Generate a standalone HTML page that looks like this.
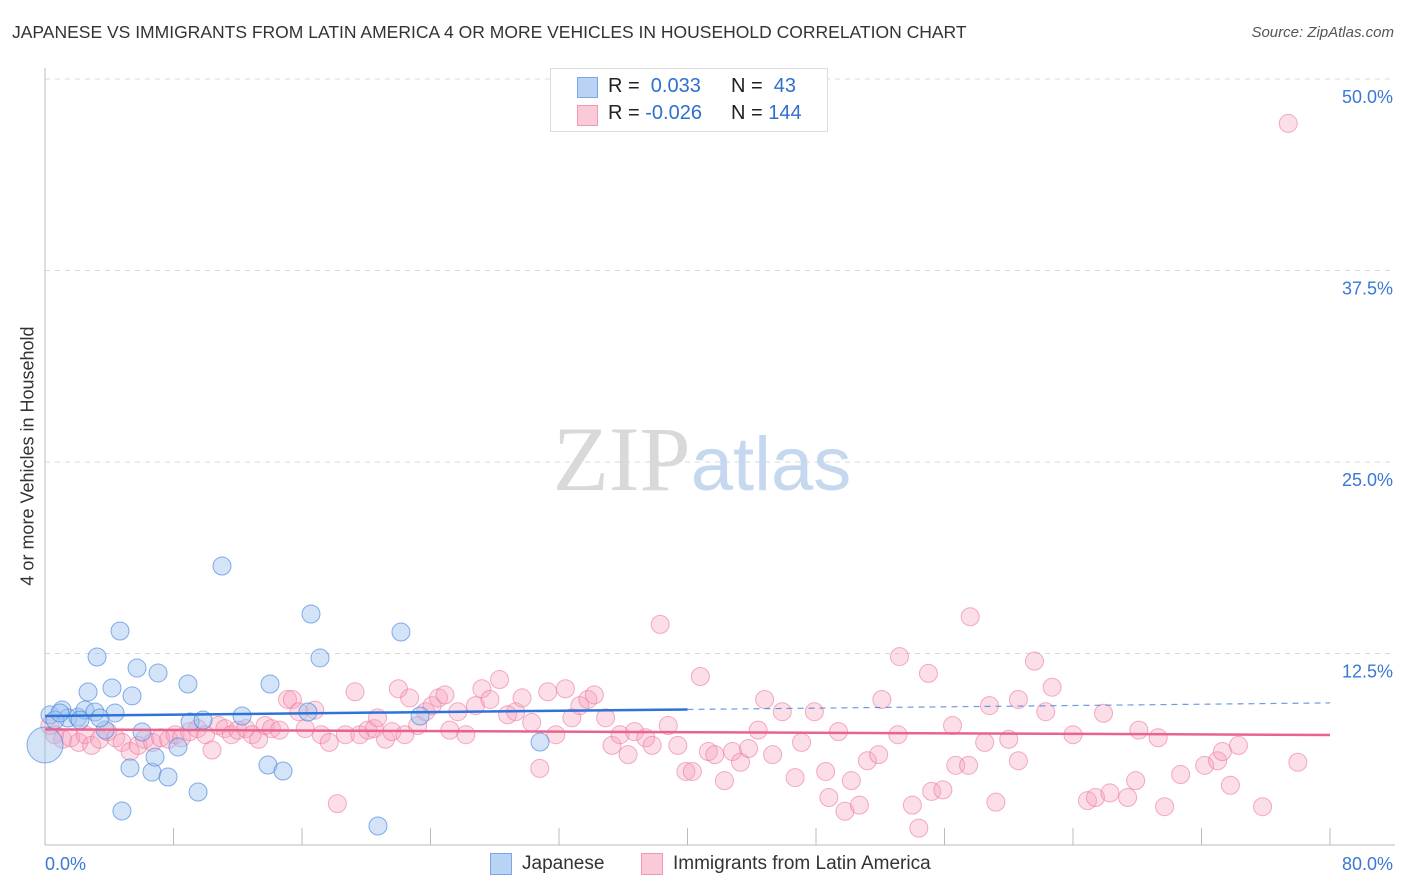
<!DOCTYPE html>
<html><head><meta charset="utf-8"><style>
body{margin:0;background:#fff;font-family:"Liberation Sans",sans-serif;}
#wrap{position:relative;width:1406px;height:892px;overflow:hidden;}
.t{position:absolute;white-space:nowrap;}
</style></head><body>
<div id="wrap">
<div class="t" style="left:12px;top:22px;font-size:17.5px;color:#333;">JAPANESE VS IMMIGRANTS FROM LATIN AMERICA 4 OR MORE VEHICLES IN HOUSEHOLD CORRELATION CHART</div>
<div class="t" style="right:12px;top:24px;font-size:15px;color:#555;font-style:italic;">Source: ZipAtlas.com</div>
<div class="t" style="left:28px;top:456px;font-size:18px;color:#333;transform:translate(-50%,-50%) rotate(-90deg);">4 or more Vehicles in Household</div>
<svg id="svg" width="1406" height="892" style="position:absolute;left:0;top:0"></svg>
<div style="position:absolute;left:550px;top:68px;width:276px;height:62px;border:1px solid #ddd;background:#fff;">
 <div style="position:absolute;left:26px;top:8px;width:19px;height:19px;background:#b9d3f5;border:1px solid #7aa6e6;"></div>
 <div class="t" style="left:57px;top:6px;font-size:20px;color:#222;">R = &nbsp;<span style="color:#2f6fd0">0.033</span></div>
 <div class="t" style="left:180px;top:6px;font-size:20px;color:#222;">N = &nbsp;<span style="color:#2f6fd0">43</span></div>
 <div style="position:absolute;left:26px;top:36px;width:19px;height:19px;background:#fbcad8;border:1px solid #ef9ab3;"></div>
 <div class="t" style="left:57px;top:33px;font-size:20px;color:#222;">R = <span style="color:#2f6fd0">-0.026</span></div>
 <div class="t" style="left:180px;top:33px;font-size:20px;color:#222;">N = <span style="color:#2f6fd0">144</span></div>
</div>
<div style="position:absolute;left:490px;top:853px;width:20px;height:20px;background:#b9d3f5;border:1px solid #7aa6e6;"></div>
<div class="t" style="left:522px;top:853px;font-size:19px;color:#333;">Japanese</div>
<div style="position:absolute;left:641px;top:853px;width:20px;height:20px;background:#fbcad8;border:1px solid #ef9ab3;"></div>
<div class="t" style="left:673px;top:853px;font-size:19px;color:#333;">Immigrants from Latin America</div>
</div>
<script>
const jpX=[0.31,1.06,1.43,2.05,2.49,3.11,2.68,3.24,3.74,4.17,4.36,4.67,5.42,5.73,6.04,5.29,6.66,7.04,7.66,8.28,8.90,9.03,9.84,9.53,11.02,12.27,14.01,13.88,14.82,16.37,16.56,17.12,4.79,20.73,22.16,23.35,30.82,0.62,2.18,3.42,6.85,0.93,0];
const jpY=[8.49,8.81,8.29,8.35,8.81,8.68,9.99,12.27,7.51,10.25,8.62,13.97,9.73,11.55,7.38,5.03,4.76,11.23,4.44,6.40,10.51,8.03,8.16,3.46,18.21,8.42,10.51,5.22,4.83,8.68,15.08,12.21,2.22,1.24,13.90,8.42,6.72,8.16,8.16,8.29,5.74,8.62,6.53];
const jpW=[1,1,1,1,1,1,1,1,1,1,1,1,1,1,1,1,1,1,1,1,1,1,1,1,1,1,1,1,1,1,1,1,1,1,1,1,1,1,1,1,1,1,2];
const laX=[0.3,0.6,1.1,1.6,2.1,2.5,2.9,3.4,3.9,4.4,4.8,5.3,5.8,6.2,6.7,7.2,7.7,8.1,8.5,9.0,9.5,10.0,10.4,10.8,11.2,11.6,12.0,12.5,12.9,13.3,13.7,14.1,14.6,15.1,15.4,15.8,16.2,16.8,17.2,17.7,18.2,18.7,19.3,19.6,20.1,20.5,20.7,21.2,21.6,22.0,22.4,22.7,23.2,23.7,24.1,24.5,24.9,25.2,25.7,26.2,26.8,27.2,27.7,28.3,28.8,29.3,29.7,30.3,30.8,31.3,31.8,32.4,32.8,33.3,33.8,34.2,34.9,35.3,35.8,36.3,36.7,37.4,37.8,38.3,38.8,39.4,39.9,40.3,40.8,41.3,41.7,42.3,42.8,43.3,43.8,44.4,44.8,45.3,45.9,46.7,47.1,47.9,48.6,48.8,49.4,49.8,50.2,50.7,51.2,51.9,52.1,53.1,53.2,54.0,54.4,55.0,55.2,55.9,56.5,56.7,57.5,57.6,58.5,58.8,59.2,60.0,60.6,60.6,61.6,62.3,62.7,64.0,64.9,65.4,65.9,66.3,67.4,67.9,68.1,69.3,69.7,70.7,72.2,73.0,73.3,73.8,74.3,75.8,77.4,78.0];
const laY=[7.8,7.2,6.9,7.0,6.7,7.2,6.5,6.9,7.4,7.0,6.7,6.1,6.5,6.9,6.7,7.0,6.9,7.2,7.0,7.4,7.6,7.2,6.2,7.8,7.6,7.2,7.5,7.6,7.2,6.9,7.8,7.6,7.5,9.5,9.5,8.7,7.6,8.8,7.2,6.7,2.7,7.2,10.0,7.2,7.5,7.6,8.3,6.9,7.4,10.2,7.2,9.6,7.8,8.7,9.1,9.6,9.8,7.5,8.7,7.2,9.1,10.2,9.5,10.8,8.5,8.7,9.6,8.0,5.0,10.0,7.2,10.2,8.3,9.1,9.5,9.8,8.3,6.5,7.2,5.9,7.4,7.0,6.5,14.4,7.8,6.5,4.8,4.8,11.0,6.1,5.9,4.2,6.1,5.4,6.3,7.5,9.5,5.9,8.7,4.4,6.7,8.7,4.8,3.1,7.4,2.2,4.2,2.6,5.5,5.9,9.5,7.2,12.3,2.6,1.1,11.2,3.5,3.6,7.8,5.2,5.2,14.9,6.7,9.1,2.8,6.9,5.5,9.5,12.0,8.7,10.3,7.2,2.9,3.1,8.6,3.4,3.1,4.2,7.5,7.0,2.5,4.6,5.2,5.5,6.1,3.9,6.5,2.5,47.1,5.4];
const yTicks=[12.5,25.0,37.5,50.0];
const xTickVals=[0,8,16,24,32,40,48,56,64,72,80];

const svg=document.getElementById('svg');const NS='http://www.w3.org/2000/svg';
const X=v=>45+v*(1285/80), Y=v=>845-v*(766/50);
function mk(tag,attrs,parent){const e=document.createElementNS(NS,tag);for(const k in attrs)e.setAttribute(k,attrs[k]);(parent||svg).appendChild(e);return e;}
yTicks.forEach(t=>{
 const g=mk('line',{x1:45,x2:1395,y1:Y(t),y2:Y(t),stroke:'#d8d8d8','stroke-dasharray':'5,5'});
 
 
 const tx=mk('text',{x:1393,y:Y(t)+24,'text-anchor':'end','font-size':'18','fill':'#3a78d4','font-family':'Liberation Sans, sans-serif'});
 tx.textContent=t.toFixed(1)+'%';
 
 
});
const ax=mk('line',{x1:45,x2:45,y1:68,y2:845,stroke:'#bbb'});


const bx=mk('line',{x1:45,x2:1395,y1:845,y2:845,stroke:'#bbb'});


xTickVals.forEach(v=>{const l=mk('line',{x1:X(v),x2:X(v),y1:828,y2:845,stroke:'#bbb'});
 
 });
[[0,'start',45],[80,'end',1393]].forEach(([v,a,px])=>{const t=mk('text',{x:px,y:870,'text-anchor':a,'font-size':'18','fill':'#3a78d4','font-family':'Liberation Sans, sans-serif'});t.textContent=v.toFixed(1)+'%';
 
 });
const wm=mk('text',{x:702,y:490,'text-anchor':'middle','font-size':'92','font-family':'Liberation Serif, serif'});
wm.innerHTML='<tspan fill="#d9d9d9">ZIP</tspan><tspan fill="#c6d8f0" font-family="Liberation Sans, sans-serif" font-size="76">atlas</tspan>';


function fit(xs,ys){const n=xs.length;let mx=0,my=0;for(let i=0;i<n;i++){mx+=xs[i];my+=ys[i];}mx/=n;my/=n;let a=0,b=0;for(let i=0;i<n;i++){a+=(xs[i]-mx)*(ys[i]-my);b+=(xs[i]-mx)**2;}const s=a/b;return [my-s*mx,s];}
laX.forEach((x,i)=>{const c=mk('circle',{cx:X(x),cy:Y(laY[i]),r:9,fill:'rgba(247,160,188,0.35)',stroke:'rgba(236,120,155,0.6)','stroke-width':1});
 
 });
jpX.forEach((x,i)=>{const c=mk('circle',{cx:X(x),cy:Y(jpY[i]),r:9*jpW[i],fill:'rgba(160,196,240,0.45)',stroke:'rgba(70,130,220,0.65)','stroke-width':1});
 
 });
const [ja,jb]=fit(jpX,jpY),[la,lb]=fit(laX,laY);
const l1=mk('line',{x1:X(0),x2:X(40),y1:Y(ja),y2:Y(ja+jb*40),stroke:'#2f73d6','stroke-width':2.5});


const l2=mk('line',{x1:X(40),x2:X(80),y1:Y(ja+jb*40),y2:Y(ja+jb*80),stroke:'#2f73d6','stroke-width':1.2,'stroke-dasharray':'6,5',opacity:0.7});


const l3=mk('line',{x1:X(0),x2:X(80),y1:Y(la),y2:Y(la+lb*80),stroke:'#e8648f','stroke-width':2.5});


</script>
</body></html>
